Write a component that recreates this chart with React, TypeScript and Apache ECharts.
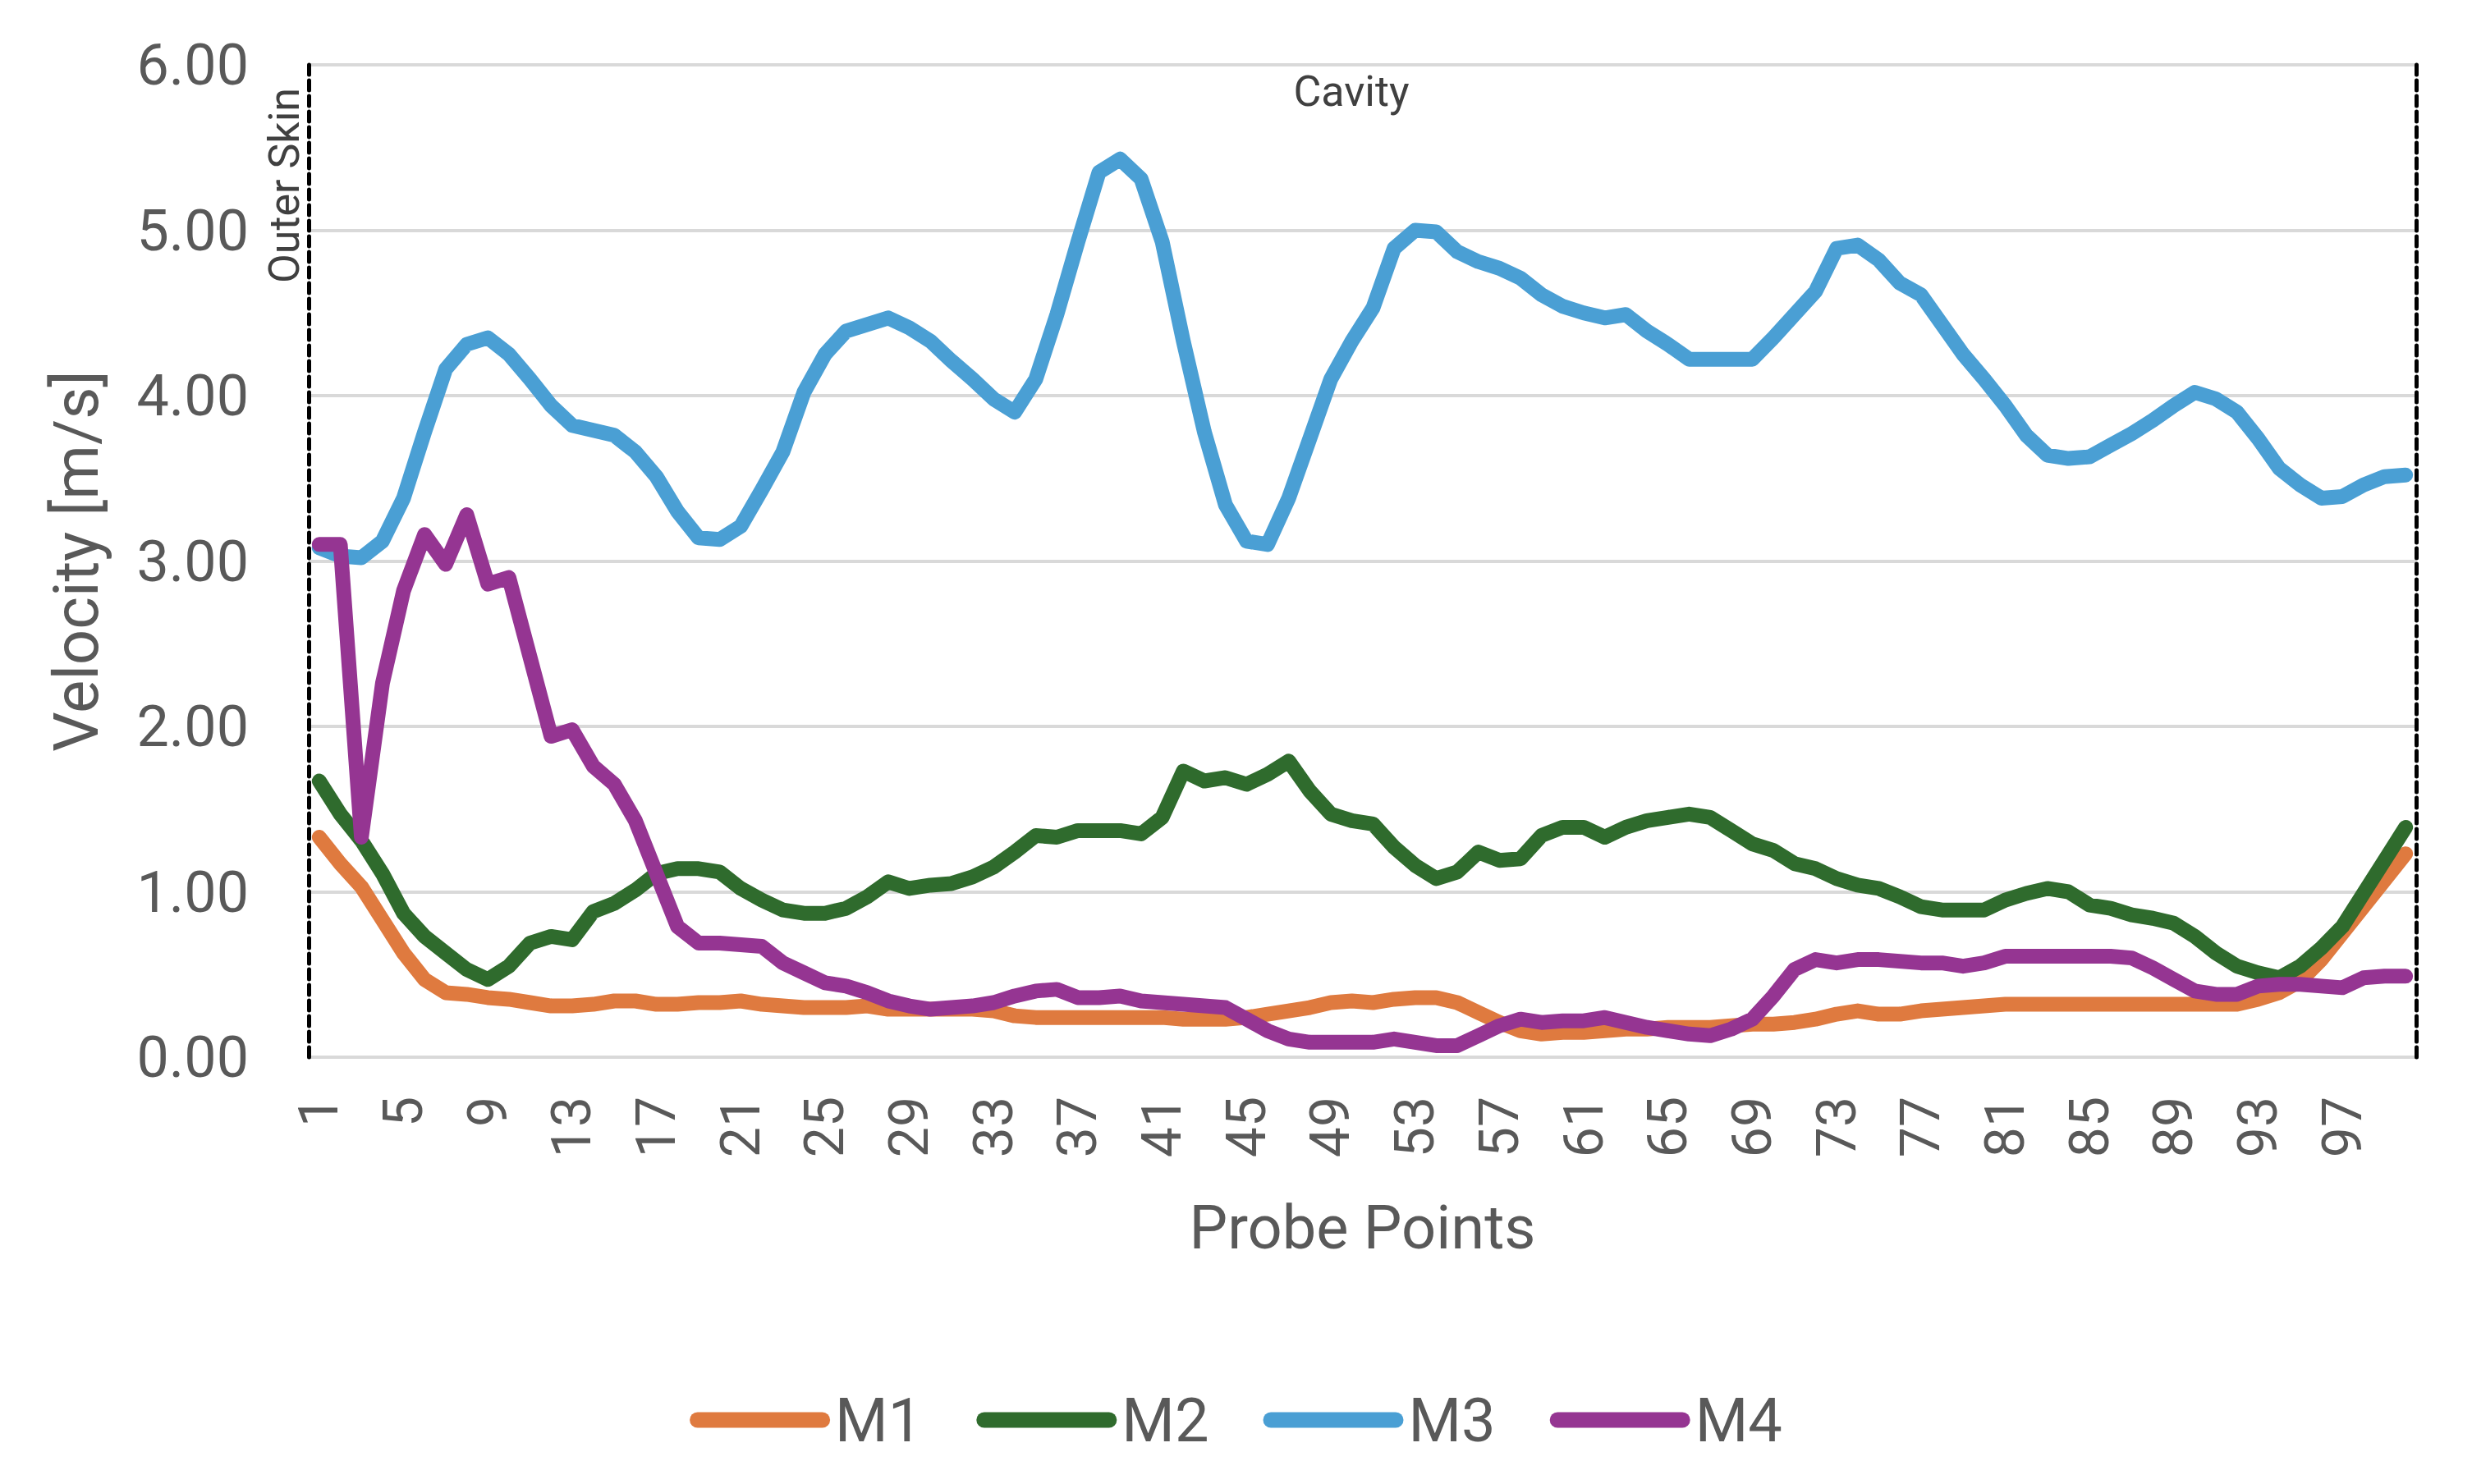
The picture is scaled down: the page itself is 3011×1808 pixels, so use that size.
import React, { useEffect, useRef } from 'react';
import * as echarts from 'echarts';

// probe point numbers 1..100
const probePoints: string[] = Array.from({ length: 100 }, (_, i) => String(i + 1));

const m1: number[] = [
  1.33, 1.17, 1.03, 0.83, 0.63, 0.47, 0.39, 0.38, 0.36, 0.35,
  0.33, 0.31, 0.31, 0.32, 0.34, 0.34, 0.32, 0.32, 0.33, 0.33,
  0.34, 0.32, 0.31, 0.30, 0.30, 0.30, 0.31, 0.29, 0.29, 0.29,
  0.29, 0.29, 0.28, 0.25, 0.24, 0.24, 0.24, 0.24, 0.24, 0.24,
  0.24, 0.23, 0.23, 0.23, 0.24, 0.26, 0.28, 0.30, 0.33, 0.34,
  0.33, 0.35, 0.36, 0.36, 0.33, 0.27, 0.21, 0.16, 0.14, 0.15,
  0.15, 0.16, 0.17, 0.17, 0.18, 0.18, 0.18, 0.19, 0.20, 0.20,
  0.21, 0.23, 0.26, 0.28, 0.26, 0.26, 0.28, 0.29, 0.30, 0.31,
  0.32, 0.32, 0.32, 0.32, 0.32, 0.32, 0.32, 0.32, 0.32, 0.32,
  0.32, 0.32, 0.35, 0.39, 0.46, 0.59, 0.75, 0.91, 1.07, 1.23,
];

const m2: number[] = [
  1.67, 1.47, 1.31, 1.11, 0.87, 0.73, 0.63, 0.53, 0.47, 0.55,
  0.69, 0.73, 0.71, 0.88, 0.93, 1.01, 1.11, 1.14, 1.14, 1.12,
  1.02, 0.95, 0.89, 0.87, 0.87, 0.90, 0.97, 1.06, 1.02, 1.04,
  1.05, 1.09, 1.15, 1.24, 1.34, 1.33, 1.37, 1.37, 1.37, 1.35,
  1.45, 1.73, 1.67, 1.69, 1.65, 1.71, 1.79, 1.61, 1.47, 1.43,
  1.41, 1.27, 1.16, 1.08, 1.12, 1.24, 1.19, 1.20, 1.34, 1.39,
  1.39, 1.33, 1.39, 1.43, 1.45, 1.47, 1.45, 1.37, 1.29, 1.25,
  1.17, 1.14, 1.08, 1.04, 1.02, 0.97, 0.91, 0.89, 0.89, 0.89,
  0.95, 0.99, 1.02, 1.00, 0.92, 0.90, 0.86, 0.84, 0.81, 0.73,
  0.63, 0.55, 0.51, 0.48, 0.55, 0.66, 0.79, 0.99, 1.19, 1.39,
];

const m3: number[] = [
  3.08, 3.03, 3.02, 3.12, 3.38, 3.78, 4.16, 4.31, 4.35, 4.25,
  4.10, 3.94, 3.82, 3.79, 3.76, 3.66, 3.51, 3.30, 3.14, 3.13,
  3.21, 3.43, 3.66, 4.02, 4.25, 4.39, 4.43, 4.47, 4.41, 4.33,
  4.21, 4.10, 3.98, 3.90, 4.10, 4.49, 4.93, 5.35, 5.43, 5.31,
  4.93, 4.33, 3.78, 3.34, 3.12, 3.10, 3.38, 3.74, 4.10, 4.33,
  4.53, 4.89, 5.00, 4.99, 4.87, 4.81, 4.77, 4.71, 4.61, 4.54,
  4.50, 4.47, 4.49, 4.39, 4.31, 4.22, 4.22, 4.22, 4.22, 4.35,
  4.49, 4.63, 4.89, 4.91, 4.82, 4.68, 4.61, 4.43, 4.25, 4.10,
  3.94, 3.76, 3.64, 3.62, 3.63, 3.70, 3.77, 3.85, 3.94, 4.02,
  3.98, 3.90, 3.74, 3.56, 3.46, 3.38, 3.39, 3.46, 3.51, 3.52,
];

const m4: number[] = [
  3.10, 3.10, 1.33, 2.26, 2.82, 3.16, 2.98, 3.28, 2.86, 2.90,
  2.42, 1.94, 1.98, 1.76, 1.65, 1.43, 1.11, 0.79, 0.69, 0.69,
  0.68, 0.67, 0.57, 0.51, 0.45, 0.43, 0.39, 0.34, 0.31, 0.29,
  0.30, 0.31, 0.33, 0.37, 0.40, 0.41, 0.36, 0.36, 0.37, 0.34,
  0.33, 0.32, 0.31, 0.30, 0.23, 0.16, 0.11, 0.09, 0.09, 0.09,
  0.09, 0.11, 0.09, 0.07, 0.07, 0.13, 0.19, 0.23, 0.21, 0.22,
  0.22, 0.24, 0.21, 0.18, 0.16, 0.14, 0.13, 0.17, 0.23, 0.37,
  0.53, 0.59, 0.57, 0.59, 0.59, 0.58, 0.57, 0.57, 0.55, 0.57,
  0.61, 0.61, 0.61, 0.61, 0.61, 0.61, 0.60, 0.54, 0.47, 0.40,
  0.38, 0.38, 0.43, 0.44, 0.44, 0.43, 0.42, 0.48, 0.49, 0.49,
];

const seriesNames = ['M1', 'M2', 'M3', 'M4'];
const seriesColors = ['#DF7A3F', '#2F6B2D', '#4A9FD4', '#953592'];

const FONT = 'Roboto';
const GRAY = '#595959';
// pill shaped legend marker
const PILL = 'path://M10,0 H170 A10,10 0 0 1 170,20 H10 A10,10 0 0 1 10,0 Z';

const App: React.FC = () => {
  const chartRef = useRef<HTMLDivElement>(null);

  useEffect(() => {
    document.body.style.margin = '0';
    if (!chartRef.current) return;
    const chart = echarts.init(chartRef.current, undefined, { renderer: 'svg' });

    const dashed = {
      show: true,
      lineStyle: { color: '#000000', width: 5, type: [12, 7] as number[] },
    };

    const option = {
      animation: false,
      textStyle: { fontFamily: FONT },
      grid: { left: 376, right: 68, top: 79, bottom: 520, containLabel: false },
      legend: {
        bottom: 36,
        left: 'center',
        itemWidth: 173,
        itemHeight: 19,
        itemGap: 66,
        icon: PILL,
        data: seriesNames,
        textStyle: { fontFamily: FONT, fontSize: 74, color: GRAY },
      },
      xAxis: {
        type: 'category',
        data: probePoints,
        boundaryGap: true,
        axisLine: { show: false },
        axisTick: { show: false },
        axisLabel: {
          interval: 3,
          rotate: 90,
          margin: 48,
          fontSize: 66,
          color: GRAY,
          fontFamily: FONT,
        },
        name: 'Probe Points',
        nameLocation: 'middle',
        nameGap: 170,
        nameTextStyle: { fontSize: 74, color: GRAY, fontFamily: FONT },
      },
      yAxis: [
        {
          type: 'value',
          min: 0,
          max: 6,
          interval: 1,
          axisLine: dashed,
          axisTick: { show: false },
          splitLine: { lineStyle: { color: '#D9D9D9', width: 4 } },
          axisLabel: {
            margin: 73,
            fontSize: 70,
            color: GRAY,
            fontFamily: FONT,
            formatter: (v: number) => v.toFixed(2),
          },
          name: 'Velocity [m/s]',
          nameLocation: 'middle',
          nameGap: 245,
          nameTextStyle: { fontSize: 76, color: GRAY, fontFamily: FONT },
        },
        {
          type: 'value',
          position: 'right',
          min: 0,
          max: 6,
          interval: 1,
          axisLine: dashed,
          axisTick: { show: false },
          axisLabel: { show: false },
          splitLine: { show: false },
        },
      ],
      graphic: [
        {
          type: 'text',
          x: 1646,
          y: 111,
          style: {
            text: 'Cavity',
            fontSize: 52,
            fontFamily: FONT,
            fill: '#404040',
            align: 'center',
            verticalAlign: 'middle',
          },
        },
        {
          type: 'text',
          x: 346,
          y: 226,
          rotation: Math.PI / 2,
          style: {
            text: 'Outer Skin',
            fontSize: 52,
            fontFamily: FONT,
            fill: '#404040',
            align: 'center',
            verticalAlign: 'middle',
          },
        },
      ],
      series: [m1, m2, m3, m4].map((d, i) => ({
        name: seriesNames[i],
        type: 'line',
        data: d,
        yAxisIndex: 0,
        symbol: 'none',
        color: seriesColors[i],
        lineStyle: { width: 18, color: seriesColors[i], cap: 'round', join: 'round' },
      })),
    };

    chart.setOption(option);
    return () => {
      chart.dispose();
    };
  }, []);

  return (
    <div
      ref={chartRef}
      style={{ position: 'absolute', left: 0, top: 0, width: '3011px', height: '1808px', background: '#ffffff' }}
    />
  );
};

export default App;
